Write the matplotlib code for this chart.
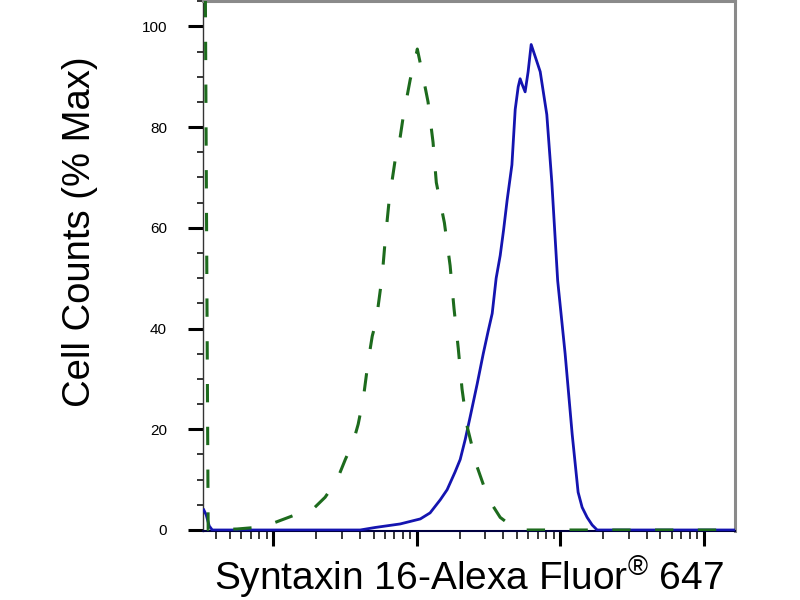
import numpy as np
import matplotlib.pyplot as plt
from matplotlib.ticker import LogLocator, NullFormatter, MultipleLocator

plt.rcParams['font.family'] = ['Liberation Sans', 'DejaVu Sans']
plt.rcParams['mathtext.fontset'] = 'custom'
plt.rcParams['mathtext.rm'] = 'Liberation Sans'

# Isotype control (green dashed) - intensity vs % max
ctrl_x = [3.36, 3.52, 5.61, 7.5, 10.3, 14.2, 18.7, 23.0, 27.9, 31.8, 36.1, 39.1,
          42.4, 45.9, 49.0, 52.2, 57.5, 60.3, 64.3, 70.8, 76.7, 80.5, 90.2, 96.1,
          101, 109, 120, 130, 137, 156, 171, 182, 195, 207, 225, 264, 300, 336,
          382, 449, 526, 16600]
ctrl_y = [110, 0, 0.2, 0.5, 1.5, 3, 4, 6.5, 10, 14, 17.5, 21,
          26, 33.5, 38.5, 41.5, 50.5, 57.5, 65.5, 73.5, 78, 82, 89.5, 92.5,
          95.5, 91, 85, 77, 69, 61, 52.5, 44, 36, 28, 20.5, 12.5, 8, 5,
          2.5, 1, 0, 0]

# Syntaxin 16 stained sample (blue solid)
stx_x = [3.28, 3.41, 3.58, 3.76, 40.4, 51.4, 76.7, 106, 124, 146, 163, 185,
         201, 218, 236, 264, 291, 315, 336, 358, 382, 403, 427, 461, 486, 510,
         526, 543, 570, 598, 628, 670, 726, 807, 875, 961, 1083, 1213, 1334,
         1423, 1542, 1671, 1811, 16600]
stx_y = [4, 3, 0.8, 0, 0, 0.5, 1.2, 2.2, 3.4, 6, 8, 11.5,
         14, 18, 22.5, 29, 35, 39.5, 43, 50, 54.5, 59.5, 65.5, 72.5, 83.5, 88,
         89.6, 88.5, 87, 91, 96.4, 94, 91, 82.5, 69, 49.5, 35, 19, 7.5,
         4.5, 2.5, 1, 0, 0]

fig = plt.figure(figsize=(8, 6), dpi=100)
ax = fig.add_axes([0.254, 0.115, 0.665, 0.883])

ax.plot(stx_x, stx_y, color='#1414b0', lw=2.0, zorder=3)
ax.plot(ctrl_x, ctrl_y, color='#1d6b1d', lw=2.2, dashes=(6, 8), zorder=4)

ax.set_xscale('log')
ax.set_xlim(3.25, 16600)
ax.set_ylim(-0.2, 105)

ax.xaxis.set_major_locator(LogLocator(base=10))
ax.xaxis.set_minor_locator(LogLocator(base=10, subs=np.arange(2, 10)))
ax.xaxis.set_major_formatter(NullFormatter())
ax.xaxis.set_minor_formatter(NullFormatter())
ax.yaxis.set_major_locator(MultipleLocator(20))
ax.yaxis.set_minor_locator(MultipleLocator(5))

ax.tick_params(axis='x', which='major', length=11, width=2.2, color='black')
ax.tick_params(axis='x', which='minor', length=6, width=1.1, color='black')
ax.tick_params(axis='y', which='major', length=11, width=2.2, color='black',
               labelsize=11, pad=15)
ax.tick_params(axis='y', which='minor', length=4.5, width=1.1, color='black')

for side in ['top', 'right']:
    ax.spines[side].set_color('#8a8a8a')
    ax.spines[side].set_linewidth(2.2)
ax.spines['left'].set_color('#333333')
ax.spines['left'].set_linewidth(1)
ax.spines['bottom'].set_color('#000040')
ax.spines['bottom'].set_linewidth(1.5)

fig.text(469 / 800, 1 - 591 / 600, r'Syntaxin 16-Alexa Fluor$^{\mathrm{®}}$ 647',
         fontsize=28, ha='center', va='baseline')
fig.text(80 / 800, 1 - 232 / 600, 'Cell Counts (% Max)', fontsize=27.5,
         rotation=90, ha='center', va='center')

fig.savefig('out.png', dpi=100)
plt.close()
